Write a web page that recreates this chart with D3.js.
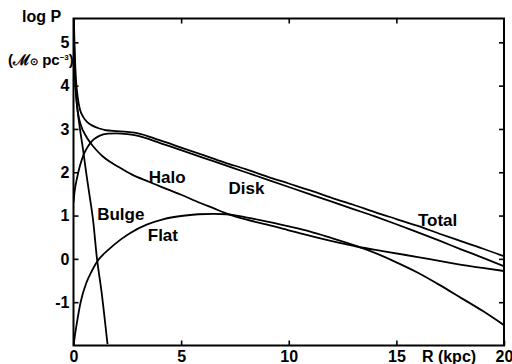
<!DOCTYPE html>
<html><head><meta charset="utf-8">
<script src="https://cdn.jsdelivr.net/npm/d3@7"></script>
<style>
body{margin:0;background:#fff}
svg text{font-family:"Liberation Sans",Arial,sans-serif;font-weight:bold;fill:#000}
</style>
</head><body>
<svg id="c" width="512" height="364"></svg>
<script>
// ---- data (R in kpc, log density) ----
const bulgeR    = [0, 0.02, 0.05, 0.1, 0.15, 0.22, 0.3, 0.45, 0.6, 0.75, 0.92, 1.08, 1.3, 1.58];
const bulgeLogP = [6.2, 5.2, 4.45, 3.9, 3.6, 3.3, 3.0, 2.5, 1.95, 1.45, 0.85, 0.05, -0.75, -1.97];

const haloR    = [0, 0.03, 0.07, 0.12, 0.2, 0.35, 0.55, 0.8, 1.05, 1.35, 1.7, 2.1, 2.7, 3.5, 4.2, 5.0, 5.7, 6.5, 7.1, 8.0, 9.0, 10.0, 11.0, 12.0, 13.2, 14.5, 16, 17.5, 19, 20];
const haloLogP = [6.0, 5.0, 4.3, 3.8, 3.4, 3.08, 2.86, 2.67, 2.52, 2.37, 2.24, 2.12, 1.95, 1.78, 1.64, 1.48, 1.33, 1.17, 1.05, 0.91, 0.79, 0.66, 0.53, 0.41, 0.28, 0.17, 0.04, -0.09, -0.21, -0.28];

const flatR    = [0, 0.03, 0.07, 0.15, 0.33, 0.6, 0.85, 1.1, 1.6, 2.2, 2.64, 3.4, 4.2, 5.0, 5.8, 6.5, 7.1, 8.0, 9.0, 9.9, 11.0, 12.0, 13.2, 14.0, 15.0, 16.0, 17.0, 18.0, 19.0, 20.0];
const flatLogP = [-2.0, -1.9, -1.75, -1.5, -1.0, -0.55, -0.28, -0.06, 0.2, 0.45, 0.6, 0.79, 0.92, 0.99, 1.03, 1.04, 1.03, 0.96, 0.86, 0.76, 0.63, 0.48, 0.29, 0.14, -0.08, -0.32, -0.6, -0.9, -1.2, -1.53];

const diskR    = [0, 0.05, 0.17, 0.3, 0.48, 0.7, 0.9, 1.2, 1.6, 2.0, 2.5, 3, 4, 5, 6, 7, 8, 9, 10, 11, 12, 13, 14, 15, 16, 17, 18, 19, 20];
const diskLogP = [1.3, 1.55, 1.88, 2.15, 2.42, 2.62, 2.74, 2.84, 2.89, 2.9, 2.88, 2.84, 2.68, 2.51, 2.34, 2.17, 2.0, 1.83, 1.66, 1.49, 1.32, 1.15, 0.98, 0.8, 0.61, 0.42, 0.22, 0.03, -0.17];

const totalR    = [0, 0.03, 0.07, 0.12, 0.2, 0.3, 0.45, 0.65, 0.9, 1.2, 1.5, 2, 2.5, 3, 4, 5, 6, 7, 8, 9, 10, 11, 12, 13, 14, 15, 16, 17, 18, 19, 20];
const totalLogP = [6.4, 5.3, 4.6, 4.1, 3.72, 3.45, 3.28, 3.15, 3.07, 3.01, 2.97, 2.95, 2.93, 2.9, 2.74, 2.57, 2.4, 2.23, 2.07, 1.9, 1.74, 1.58, 1.41, 1.25, 1.08, 0.92, 0.76, 0.58, 0.41, 0.24, 0.06];

const yTicks = [-1, 0, 1, 2, 3, 4, 5];
const xTicks = [0, 5, 10, 15, 20];
const xTicksTop = [5, 10, 15];

const seriesLabels = [
  {name: "Halo",  R: 3.5,  v: 1.75},
  {name: "Disk",  R: 7.2,  v: 1.5},
  {name: "Bulge", R: 1.1,  v: 0.9},
  {name: "Flat",  R: 3.45, v: 0.42},
  {name: "Total", R: 16.0, v: 0.75}
];

// ---- drawing ----
const svg = d3.select("#c");
const x = d3.scaleLinear().domain([0, 20]).range([73.5, 504]);
const y = d3.scaleLinear().domain([-2, 5.55]).range([345.5, 18.5]);

svg.append("defs").append("clipPath").attr("id", "clip")
  .append("rect")
  .attr("x", x(0)).attr("y", y(5.55))
  .attr("width", x(20) - x(0)).attr("height", y(-2) - y(5.55));

const line = d3.line().x(d => x(d[0])).y(d => y(d[1])).curve(d3.curveMonotoneX);
const series = [
  [bulgeR, bulgeLogP], [haloR, haloLogP], [flatR, flatLogP], [diskR, diskLogP], [totalR, totalLogP]
];
const g = svg.append("g").attr("clip-path", "url(#clip)");
series.forEach(([rs, vs]) => {
  g.append("path")
    .datum(rs.map((r, i) => [r, vs[i]]))
    .attr("d", line)
    .attr("fill", "none").attr("stroke", "#000").attr("stroke-width", 1.8);
});

// axes with inward ticks
const fmt = d => String(d);
const axLeft = svg.append("g").attr("transform", `translate(${x(0)},0)`)
  .call(d3.axisLeft(y).tickValues(yTicks).tickSize(-5).tickPadding(4).tickFormat(fmt));
const axRight = svg.append("g").attr("transform", `translate(${x(20)},0)`)
  .call(d3.axisRight(y).tickValues(yTicks).tickSize(-5).tickFormat(""));
const axBottom = svg.append("g").attr("transform", `translate(0,${y(-2)})`)
  .call(d3.axisBottom(x).tickValues(xTicks).tickSize(-5).tickPadding(5).tickFormat(fmt));
const axTop = svg.append("g").attr("transform", `translate(0,${y(5.55)})`)
  .call(d3.axisTop(x).tickValues(xTicksTop).tickSize(-5).tickFormat(""));
[axLeft, axRight, axBottom, axTop].forEach(a => {
  a.select(".domain").remove();
  a.selectAll("line").attr("stroke", "#000").attr("stroke-width", 1.6);
  a.selectAll("text").attr("font-size", 16).attr("font-family", null);
});

// frame
svg.append("rect")
  .attr("x", x(0)).attr("y", y(5.55))
  .attr("width", x(20) - x(0)).attr("height", y(-2) - y(5.55))
  .attr("fill", "none").attr("stroke", "#000").attr("stroke-width", 2);

// axis titles
svg.append("text").attr("x", 22).attr("y", 22).attr("font-size", 16).text("log P");
const unit = svg.append("text").attr("x", 8).attr("y", 65).attr("font-size", 15);
unit.append("tspan").text("(ℳ");
unit.append("tspan").attr("font-size", 10).text("⊙");
unit.append("tspan").text(" pc");
unit.append("tspan").attr("font-size", 8).attr("dy", -5).text("−3");
unit.append("tspan").attr("dy", 5).text(")");

svg.append("text").attr("x", 449).attr("y", 362).attr("text-anchor", "middle")
  .attr("font-size", 16).text("R (kpc)");

// curve labels
svg.selectAll("text.lab").data(seriesLabels).enter().append("text")
  .attr("class", "lab")
  .attr("x", d => x(d.R)).attr("y", d => y(d.v))
  .attr("font-size", 17)
  .text(d => d.name);
</script>
</body></html>
